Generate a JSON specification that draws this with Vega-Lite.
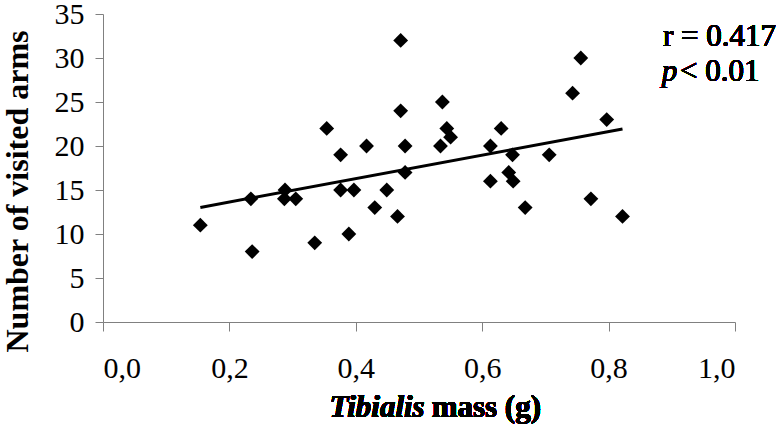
{
  "$schema": "https://vega.github.io/schema/vega-lite/v6.json",
  "autosize": "none",
  "width": 632,
  "height": 308,
  "padding": {"left": 103, "top": 14, "right": 45, "bottom": 119},
  "background": "white",
  "config": {
    "view": {"stroke": null},
    "font": "Liberation Serif",
    "axis": {"grid": false, "domainColor": "#808080", "tickColor": "#808080", "labelFont": "Liberation Serif", "labelColor": "black", "labelFontSize": 30, "titleFont": "Liberation Serif", "titleColor": "black", "titleFontSize": 32, "titleFontWeight": "bold"}
  },
  "data": {"values": [
    {"mass": 0.154, "arms": 11},
    {"mass": 0.234, "arms": 14},
    {"mass": 0.236, "arms": 8},
    {"mass": 0.288, "arms": 15},
    {"mass": 0.287, "arms": 14},
    {"mass": 0.305, "arms": 14},
    {"mass": 0.335, "arms": 9},
    {"mass": 0.354, "arms": 22},
    {"mass": 0.376, "arms": 19},
    {"mass": 0.376, "arms": 15},
    {"mass": 0.389, "arms": 10},
    {"mass": 0.397, "arms": 15},
    {"mass": 0.417, "arms": 20},
    {"mass": 0.430, "arms": 13},
    {"mass": 0.449, "arms": 15},
    {"mass": 0.466, "arms": 12},
    {"mass": 0.471, "arms": 32},
    {"mass": 0.471, "arms": 24},
    {"mass": 0.478, "arms": 20},
    {"mass": 0.478, "arms": 17},
    {"mass": 0.537, "arms": 25},
    {"mass": 0.544, "arms": 22},
    {"mass": 0.550, "arms": 21},
    {"mass": 0.534, "arms": 20},
    {"mass": 0.630, "arms": 22},
    {"mass": 0.613, "arms": 20},
    {"mass": 0.648, "arms": 19},
    {"mass": 0.642, "arms": 17},
    {"mass": 0.613, "arms": 16},
    {"mass": 0.649, "arms": 16},
    {"mass": 0.668, "arms": 13},
    {"mass": 0.706, "arms": 19},
    {"mass": 0.743, "arms": 26},
    {"mass": 0.756, "arms": 30},
    {"mass": 0.797, "arms": 23},
    {"mass": 0.772, "arms": 14},
    {"mass": 0.822, "arms": 12}
  ]},
  "layer": [
    {
      "mark": {"type": "point", "shape": "diamond", "filled": true, "color": "black", "opacity": 1, "size": 220},
      "encoding": {
        "x": {"field": "mass", "type": "quantitative", "scale": {"domain": [0, 1], "nice": false, "zero": false}, "axis": {"values": [0, 0.2, 0.4, 0.6, 0.8, 1.0], "labelExpr": "replace(format(datum.value, '.1f'), '.', ',')", "tickSize": 9, "labelPadding": 22, "title": null}},
        "y": {"field": "arms", "type": "quantitative", "scale": {"domain": [0, 35], "nice": false}, "axis": {"values": [0, 5, 10, 15, 20, 25, 30, 35], "tickSize": 8, "labelPadding": 11, "title": "Number of visited arms", "titlePadding": 20, "titleY": 177}}
      }
    },
    {
      "transform": [{"regression": "arms", "on": "mass"}],
      "mark": {"type": "line", "color": "black", "strokeWidth": 3},
      "encoding": {
        "x": {"field": "mass", "type": "quantitative"},
        "y": {"field": "arms", "type": "quantitative"}
      }
    },
    {
      "mark": {"type": "text", "text": "Tibialis", "font": "Liberation Serif", "fontSize": 31, "fontWeight": "bold", "fontStyle": "italic", "align": "right", "baseline": "alphabetic", "color": "black"},
      "encoding": {"x": {"datum": 0.509}, "y": {"datum": -10.85}}
    },
    {
      "mark": {"type": "text", "text": "mass (g)", "font": "Liberation Serif", "fontSize": 31, "fontWeight": "bold", "align": "left", "baseline": "alphabetic", "color": "black"},
      "encoding": {"x": {"datum": 0.52}, "y": {"datum": -10.85}}
    },
    {
      "mark": {"type": "text", "text": "r = 0.417", "font": "Liberation Serif", "fontSize": 31, "fontWeight": "normal", "align": "left", "baseline": "alphabetic", "color": "black"},
      "encoding": {"x": {"datum": 0.886}, "y": {"datum": 31.35}}
    },
    {
      "mark": {"type": "text", "text": "p", "font": "Liberation Serif", "fontSize": 31, "fontWeight": "normal", "fontStyle": "italic", "align": "left", "baseline": "alphabetic", "color": "black"},
      "encoding": {"x": {"datum": 0.884}, "y": {"datum": 27.4}}
    },
    {
      "mark": {"type": "text", "text": "< 0.01", "font": "Liberation Serif", "fontSize": 31, "fontWeight": "normal", "align": "left", "baseline": "alphabetic", "color": "black"},
      "encoding": {"x": {"datum": 0.913}, "y": {"datum": 27.4}}
    }
  ]
}
